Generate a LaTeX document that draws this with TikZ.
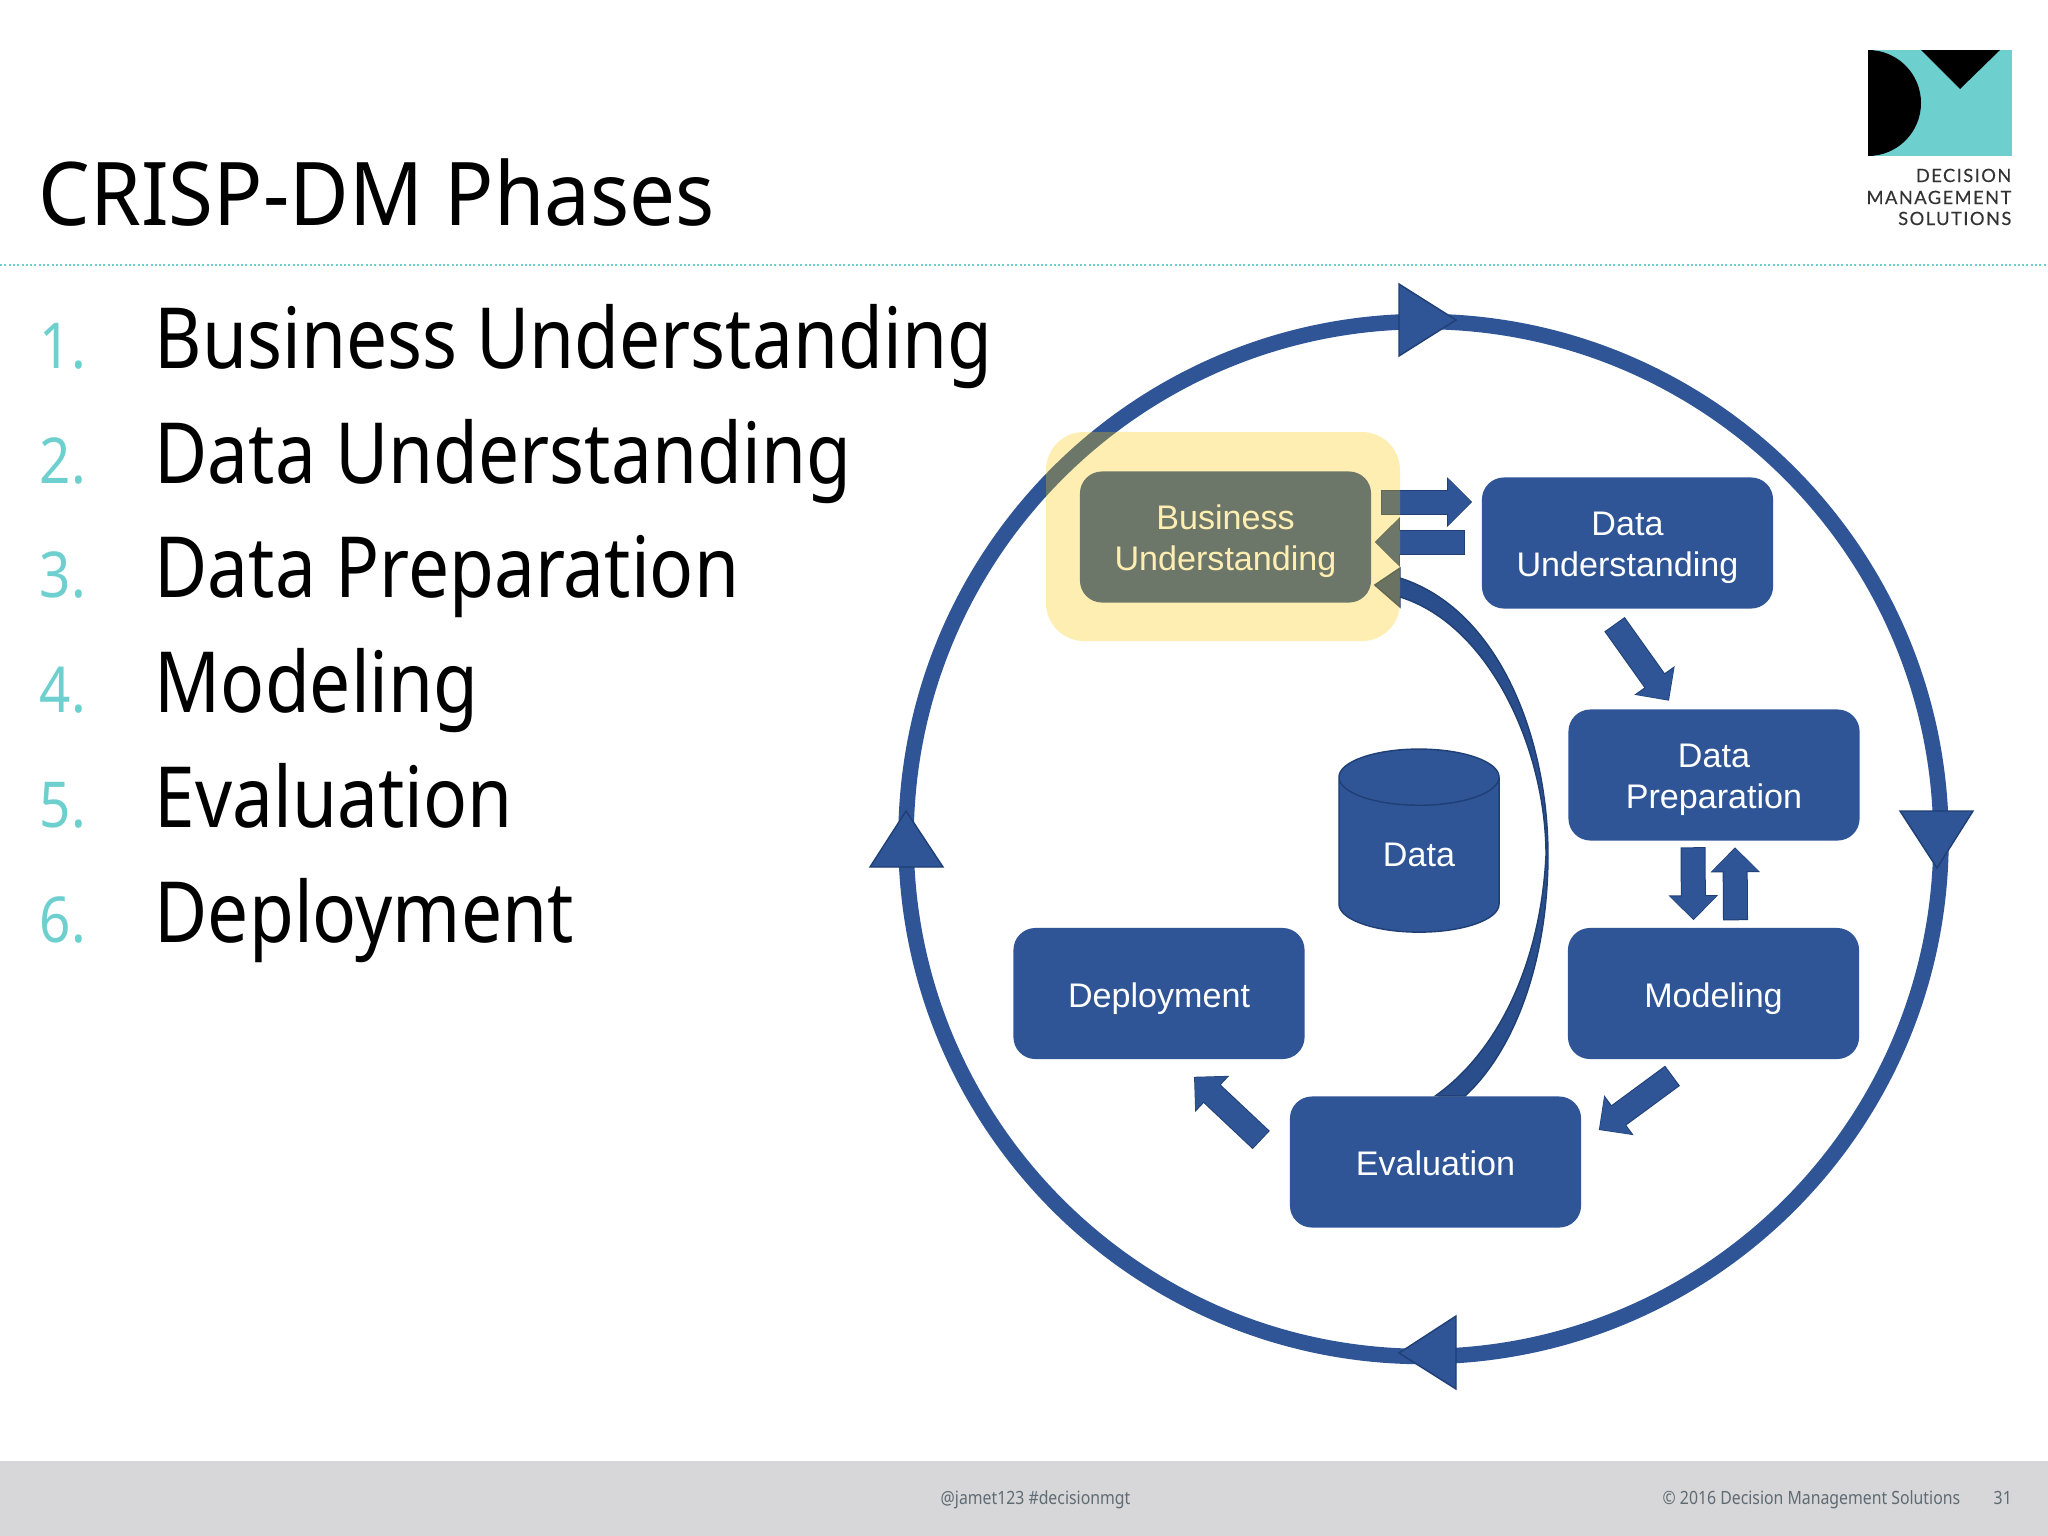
\documentclass[tikz,border=0pt]{standalone}
\usepackage{fontspec}
\setmainfont[FakeStretch=0.865]{Noto Sans}
\newfontfamily\titlefont[FakeStretch=0.93]{Noto Sans}
\newfontfamily\boxfont{Liberation Sans}
\newfontfamily\logofont[LetterSpace=8,FakeBold=0.3]{Lato}
\newcommand\boxstrut{\rule[-2.3pt]{0pt}{11.3pt}}
\newcommand\boxline[1]{\raisebox{-1.3pt}[7pt][2pt]{#1}}
\usetikzlibrary{positioning,arrows.meta,calc,shapes.geometric}
\definecolor{crispblue}{HTML}{2F5597}
\definecolor{crispdark}{HTML}{2A4E8C}
\definecolor{crispline}{HTML}{1F3F75}
\definecolor{crispteal}{HTML}{6DD0CF}
\definecolor{crispgold}{HTML}{FFC800}
\definecolor{footgray}{HTML}{D7D7DA}
\definecolor{foottext}{HTML}{5F6B72}

\begin{document}
\begin{tikzpicture}[x=0.01cm,y=-0.01cm]
  \tikzstyle{phase}=[rectangle,rounded corners=0.22cm,fill=crispblue,text=white,minimum width=2.91cm,minimum height=1.31cm,align=center,inner sep=0pt,font=\boxfont\fontsize{9.7}{11.6}\selectfont,execute at begin node=\rule{0pt}{10.1pt},execute at end node=\boxstrut]
  \tikzstyle{listtext}=[anchor=base west,inner sep=0pt,font=\fontsize{24}{28}\selectfont]
  \tikzstyle{listnum}=[anchor=base west,inner sep=0pt,text=crispteal,font=\fontsize{18}{20}\selectfont]
  \tikzstyle{logotext}=[anchor=base east,inner sep=0pt,text=black!80,font=\logofont\fontsize{5.2}{6}\selectfont]
  \tikzstyle{foot}=[anchor=base west,inner sep=0pt,text=foottext,font=\fontsize{5.2}{6}\selectfont]
  \tikzstyle{blockarrow}=[draw=crispline,line width=0.4pt,fill=crispblue]
  \tikzstyle{flow}=[-{Triangle[length=0.23cm,width=0.45cm]},line width=0.23cm,crispblue]
  \tikzstyle{flowline}=[-{Triangle[length=0.25cm,width=0.48cm]},line width=0.25cm,crispline]
  \useasboundingbox (0,0) rectangle (2048,1536);
  \fill[white] (0,0) rectangle (2048,1536);
  \fill[footgray] (0,1461) rectangle (2048,1536);

  \node[anchor=base west,inner sep=0pt,font=\titlefont\fontsize{25}{30}\selectfont] (title) at (38,225) {CRISP-DM Phases};
  \draw[crispteal,line width=0.02cm,dash pattern=on 0.02cm off 0.023cm] (0,264.5) -- (2048,264.5);

  \fill[crispteal] (1868,50) rectangle (2012,156);
  \fill[black] (1868,50) arc[start angle=90,end angle=-90,x radius=53,y radius=-53] -- cycle;
  \fill[black] (1921,50) -- (2000,50) -- (1960,89) -- cycle;
  \node[logotext] (logoa) at (2012,182) {DECISION};
  \node[logotext] (logob) at (2012,204) {MANAGEMENT};
  \node[logotext] (logoc) at (2012,225) {SOLUTIONS};

  \node[listnum] (n1) at (39,368) {1.};
  \node[listnum] (n2) at (39,483) {2.};
  \node[listnum] (n3) at (39,597) {3.};
  \node[listnum] (n4) at (39,712) {4.};
  \node[listnum] (n5) at (39,827) {5.};
  \node[listnum] (n6) at (39,942) {6.};
  \node[listtext] (t1) at (154,368) {Business Understanding};
  \node[listtext] (t2) at (154,483) {Data Understanding};
  \node[listtext] (t3) at (154,597) {Data Preparation};
  \node[listtext] (t4) at (154,712) {Modeling};
  \node[listtext] (t5) at (154,827) {Evaluation};
  \node[listtext] (t6) at (154,942) {Deployment};

  \draw[crispblue,line width=0.155cm] (1423.5,839) circle (517.5);
  \fill[blockarrow] (1399,284) -- (1399,356) -- (1456,320) -- cycle;
  \fill[blockarrow] (1900,811) -- (1973,811) -- (1937,868) -- cycle;
  \fill[blockarrow] (1456,1316) -- (1456,1389) -- (1399,1353) -- cycle;
  \fill[blockarrow] (870,867) -- (943,867) -- (906,811) -- cycle;

  \node[phase] (bu) at (1225.5,537) {\boxline{Business}\\\boxline{Understanding}};
  \node[phase] (du) at (1627.5,543) {\boxline{Data}\\\boxline{Understanding}};
  \node[phase] (dp) at (1714,775) {\boxline{Data}\\\boxline{Preparation}};
  \node[phase] (mo) at (1713.5,993.5) {Modeling};
  \node[phase] (ev) at (1435.5,1162) {Evaluation};
  \node[phase] (de) at (1159,993.5) {Deployment};
  \node[cylinder,shape border rotate=90,aspect=0.78,draw=crispline,line width=0.4pt,fill=crispblue,text=white,minimum width=1.6cm,minimum height=1.83cm,inner sep=0pt,font=\boxfont\fontsize{9.7}{11.6}\selectfont] (data) at (1419,855) {Data};

  \coordinate (tip) at ($(bu.east)+(3,48)$);
  \draw[blockarrow,fill=crispdark] (ev.north) .. controls (1500,1050) and (1541,960) .. (1546,855) .. controls (1546,750) and (1490,625) .. (1400,597) -- (1400,607) -- (tip) -- (1400,568) -- (1400,578) .. controls (1500,610) and (1548,740) .. (1548,855) .. controls (1548,960) and (1515,1050) .. (1465,1096) -- cycle;

  \draw[flowline] ($(bu.east)+(9,-35)$) -- ($(du.west)+(-9,-41)$);
  \draw[flow,shorten <=0.01cm,shorten >=0.01cm] ($(bu.east)+(9,-35)$) -- ($(du.west)+(-9,-41)$);
  \draw[flowline] ($(du.west)+(-16,-1)$) -- ($(bu.east)+(3,5)$);
  \draw[flow,shorten <=0.01cm,shorten >=0.01cm] ($(du.west)+(-16,-1)$) -- ($(bu.east)+(3,5)$);
  \draw[flowline] ($(du.south)+(-13,15)$) -- ($(dp.north)+(-45,-8)$);
  \draw[flow,shorten <=0.01cm,shorten >=0.01cm] ($(du.south)+(-13,15)$) -- ($(dp.north)+(-45,-8)$);
  \draw[flowline] ($(dp.south)+(-21,6)$) -- ($(mo.north)+(-20,-7)$);
  \draw[flow,shorten <=0.01cm,shorten >=0.01cm] ($(dp.south)+(-21,6)$) -- ($(mo.north)+(-20,-7)$);
  \draw[flowline] ($(mo.north)+(22,-7)$) -- ($(dp.south)+(21,6)$);
  \draw[flow,shorten <=0.01cm,shorten >=0.01cm] ($(mo.north)+(22,-7)$) -- ($(dp.south)+(21,6)$);
  \draw[flowline] ($(mo.south)+(-41,16)$) -- ($(ev.east)+(17,-32)$);
  \draw[flow,shorten <=0.01cm,shorten >=0.01cm] ($(mo.south)+(-41,16)$) -- ($(ev.east)+(17,-32)$);
  \draw[flowline] ($(ev.west)+(-28,-22)$) -- ($(de.south)+(35,17)$);
  \draw[flow,shorten <=0.01cm,shorten >=0.01cm] ($(ev.west)+(-28,-22)$) -- ($(de.south)+(35,17)$);

  \fill[crispgold,opacity=0.3,rounded corners=0.38cm] (1046,432) rectangle (1400,641);

  \node[foot] (handle) at (940,1504) {@jamet123 \#decisionmgt};
  \node[foot] (copy) at (1662,1504) {© 2016 Decision Management Solutions};
  \node[foot] (page) at (1993,1504) {31};

\end{tikzpicture}
\end{document}
